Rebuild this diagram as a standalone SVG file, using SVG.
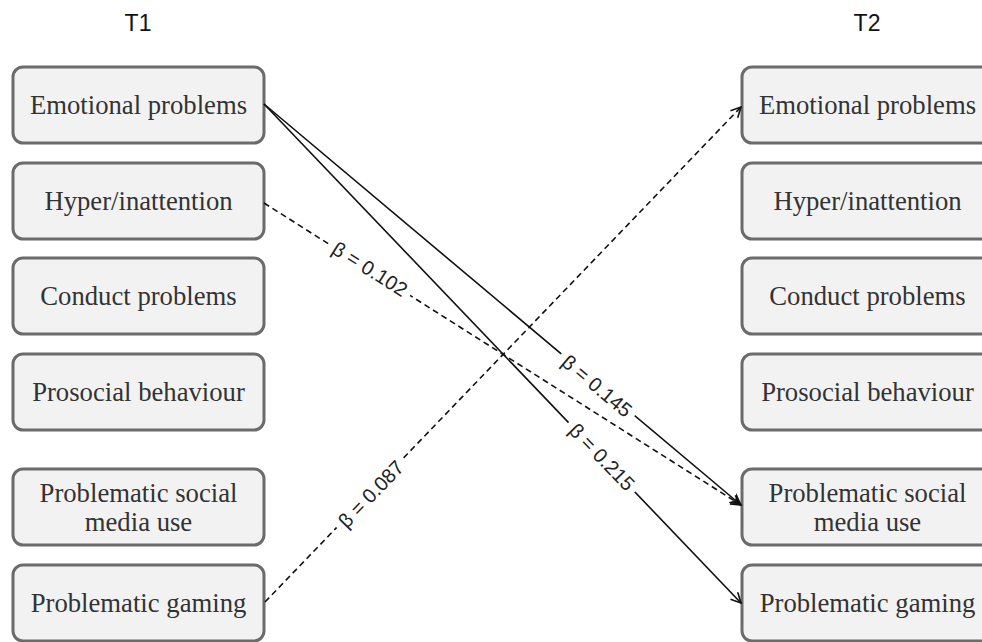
<svg xmlns="http://www.w3.org/2000/svg" width="982" height="642" viewBox="0 0 982 642">
<defs>
<style>
.box{fill:#f2f2f2;stroke:#6b6b6b;stroke-width:3}
.nt{font-family:"Liberation Serif","Times New Roman",serif;font-size:26.7px;fill:#333;text-anchor:middle}
.hd{font-family:"Liberation Sans",Arial,sans-serif;font-size:23px;fill:#111;text-anchor:middle}
.ln{fill:none;stroke:#111;stroke-width:1.6}
.ds{stroke-dasharray:6,4}
.lb{font-family:"Liberation Sans",Arial,sans-serif;font-size:20px;fill:#222;text-anchor:middle;dominant-baseline:central}
.bg{fill:#fff}
</style>
<marker id="arrS" viewBox="0 0 12 12" refX="11" refY="6" markerWidth="12" markerHeight="12" markerUnits="userSpaceOnUse" orient="auto">
<path d="M1,1 L11,6 L1,11 L4,6 Z" fill="#111" stroke="#111" stroke-width="1"/>
</marker>
<marker id="arrO" viewBox="0 0 12 12" refX="11" refY="6" markerWidth="12" markerHeight="12" markerUnits="userSpaceOnUse" orient="auto">
<path d="M1,1 L11,6 L1,11" fill="none" stroke="#111" stroke-width="1.6"/>
</marker>
</defs>
<rect width="982" height="642" fill="#fff"/>
<text class="hd" x="138" y="31">T1</text>
<text class="hd" x="867" y="31">T2</text>

<g id="t1-emotional"><rect class="box" x="13" y="67" width="251" height="76" rx="10"/><text class="nt" x="138.5" y="114">Emotional problems</text></g>
<g id="t1-hyper"><rect class="box" x="13" y="163" width="251" height="76" rx="10"/><text class="nt" x="138.5" y="210">Hyper/inattention</text></g>
<g id="t1-conduct"><rect class="box" x="13" y="258" width="251" height="76" rx="10"/><text class="nt" x="138.5" y="305">Conduct problems</text></g>
<g id="t1-prosocial"><rect class="box" x="13" y="354" width="251" height="76" rx="10"/><text class="nt" x="138.5" y="401">Prosocial behaviour</text></g>
<g id="t1-psmu"><rect class="box" x="13" y="469" width="251" height="76" rx="10"/><text class="nt" x="138.5" y="502">Problematic social</text><text class="nt" x="138.5" y="531">media use</text></g>
<g id="t1-gaming"><rect class="box" x="13" y="565" width="251" height="76" rx="10"/><text class="nt" x="138.5" y="612">Problematic gaming</text></g>

<g id="t2-emotional"><rect class="box" x="742" y="67" width="251" height="76" rx="10"/><text class="nt" x="867.5" y="114">Emotional problems</text></g>
<g id="t2-hyper"><rect class="box" x="742" y="163" width="251" height="76" rx="10"/><text class="nt" x="867.5" y="210">Hyper/inattention</text></g>
<g id="t2-conduct"><rect class="box" x="742" y="258" width="251" height="76" rx="10"/><text class="nt" x="867.5" y="305">Conduct problems</text></g>
<g id="t2-prosocial"><rect class="box" x="742" y="354" width="251" height="76" rx="10"/><text class="nt" x="867.5" y="401">Prosocial behaviour</text></g>
<g id="t2-psmu"><rect class="box" x="742" y="469" width="251" height="76" rx="10"/><text class="nt" x="867.5" y="502">Problematic social</text><text class="nt" x="867.5" y="531">media use</text></g>
<g id="t2-gaming"><rect class="box" x="742" y="565" width="251" height="76" rx="10"/><text class="nt" x="867.5" y="612">Problematic gaming</text></g>

<g id="connectors">
<line class="ln ds" x1="264" y1="203" x2="741" y2="505" marker-end="url(#arrO)"/>
<line class="ln ds" x1="265" y1="602" x2="741" y2="107" marker-end="url(#arrO)"/>
<line class="ln" x1="264" y1="104" x2="741" y2="505" marker-end="url(#arrS)"/>
<line class="ln" x1="264" y1="104" x2="741" y2="603" marker-end="url(#arrO)"/>
<g transform="translate(370,269) rotate(32.3)"><rect class="bg" x="-48" y="-10" width="96" height="20"/><text class="lb" x="0" y="0">β = 0.102</text></g>
<g transform="translate(597,386) rotate(40)"><rect class="bg" x="-48" y="-10" width="96" height="20"/><text class="lb" x="0" y="0">β = 0.145</text></g>
<g transform="translate(602,457) rotate(46.2)"><rect class="bg" x="-48" y="-10" width="96" height="20"/><text class="lb" x="0" y="0">β = 0.215</text></g>
<g transform="translate(371,494) rotate(-46.1)"><rect class="bg" x="-48" y="-10" width="96" height="20"/><text class="lb" x="0" y="0">β = 0.087</text></g>
</g>
</svg>
